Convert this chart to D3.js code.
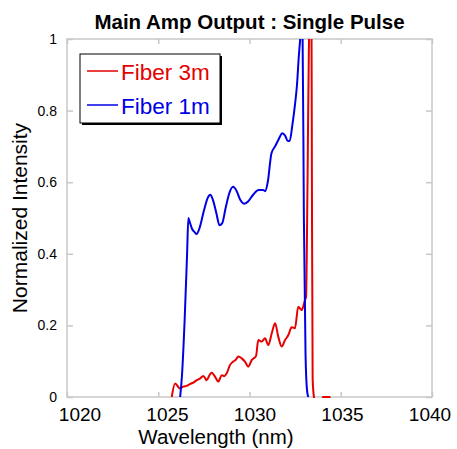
<!DOCTYPE html>
<html>
<head>
<meta charset="utf-8">
<script src="https://cdn.jsdelivr.net/npm/d3@7"></script>
<style>
  body { margin: 0; background: #fff; }
  text { font-family: "Liberation Sans", Arial, sans-serif; }
</style>
</head>
<body>
<script>
const xTicks = [1020, 1025, 1030, 1035, 1040];
const yTicks = [0, 0.2, 0.4, 0.6, 0.8, 1];

const fiber3mWl = [1025.74, 1025.92, 1026.19, 1026.37, 1026.55, 1026.74, 1026.92, 1027.11, 1027.30, 1027.47,
  1027.65, 1027.80, 1027.93, 1028.11, 1028.29, 1028.48, 1028.62, 1028.75, 1028.93, 1029.11, 1029.25, 1029.39,
  1029.57, 1029.75, 1029.93, 1030.12, 1030.36, 1030.48, 1030.67, 1030.85, 1031.03, 1031.22, 1031.40, 1031.58,
  1031.76, 1031.95, 1032.13, 1032.31, 1032.49, 1032.67, 1032.86, 1033.04, 1033.10, 1033.18, 1033.26, 1033.32,
  1033.40, 1033.42, 1033.46, 1033.53, 1033.60, 1033.95, 1034.02, 1034.40, 1034.45];
const fiber3mInt = [0, 0.038, 0.024, 0.029, 0.031, 0.036, 0.040, 0.047, 0.052, 0.059,
  0.047, 0.060, 0.068, 0.057, 0.043, 0.061, 0.058, 0.066, 0.089, 0.099, 0.104, 0.113,
  0.108, 0.099, 0.085, 0.103, 0.115, 0.159, 0.155, 0.164, 0.145, 0.178, 0.206, 0.168,
  0.141, 0.159, 0.173, 0.195, 0.192, 0.252, 0.243, 0.271, 0.28, 0.6, 1.0, 1.04,
  1.0, 0.6, 0.05, 0, -0.02, -0.02, 0, 0, -0.02];

const fiber1mWl = [1026.20, 1026.30, 1026.45, 1026.58, 1026.65, 1026.72, 1026.85, 1027.00, 1027.10, 1027.25,
  1027.50, 1027.70, 1027.85, 1028.00, 1028.20, 1028.35, 1028.50, 1028.70, 1028.90, 1029.10, 1029.30, 1029.50,
  1029.70, 1029.90, 1030.20, 1030.50, 1030.75, 1030.85, 1031.00, 1031.20, 1031.40, 1031.60, 1031.80, 1031.95,
  1032.10, 1032.20, 1032.35, 1032.50, 1032.60, 1032.70, 1032.78, 1032.84, 1032.91, 1032.98, 1033.07, 1033.15,
  1033.22];
const fiber1mInt = [0, 0.06, 0.22, 0.40, 0.50, 0.49, 0.47, 0.46, 0.455, 0.47,
  0.52, 0.555, 0.565, 0.55, 0.51, 0.48, 0.485, 0.53, 0.57, 0.587, 0.575, 0.55,
  0.54, 0.545, 0.565, 0.578, 0.578, 0.575, 0.60, 0.68, 0.70, 0.72, 0.737, 0.73,
  0.715, 0.715, 0.76, 0.82, 0.87, 0.95, 1.0, 1.03, 1.0, 0.5, 0.12, 0.02,
  0];

const seriesNames = ['Fiber 3m', 'Fiber 1m'];

function main() {
  const width = 457;
  const height = 449;
  const left = 67, right = 432, top = 39, bottom = 397;
  const colors = ['#e60000', '#0000e6'];
  const frame = '#c8c8c8';

  const svg = d3.select('body').append('svg')
    .attr('width', width)
    .attr('height', height);

  const x = d3.scaleLinear().domain([1020, 1040]).range([left, right]);
  const y = d3.scaleLinear().domain([0, 1]).range([bottom, top]);
  // tick labels in the original are spaced slightly tighter than the ticks
  const xLabel = d3.scaleLinear().domain([1020, 1040]).range([80, 430]);

  // frame
  svg.append('rect')
    .attr('x', left).attr('y', top)
    .attr('width', right - left).attr('height', bottom - top)
    .attr('fill', 'none').attr('stroke', frame).attr('stroke-width', 1.5);

  const tickStyle = g => {
    g.select('.domain').remove();
    g.selectAll('line').attr('stroke', frame).attr('stroke-width', 1.5);
  };

  svg.append('g').attr('transform', `translate(0,${bottom})`)
    .call(d3.axisTop(x).tickValues(xTicks).tickSize(5).tickFormat(''))
    .call(tickStyle);
  svg.append('g').attr('transform', `translate(0,${top})`)
    .call(d3.axisBottom(x).tickValues(xTicks).tickSize(5).tickFormat(''))
    .call(tickStyle);
  svg.append('g').attr('transform', `translate(${left},0)`)
    .call(d3.axisRight(y).tickValues(yTicks).tickSize(6).tickFormat(''))
    .call(tickStyle);
  svg.append('g').attr('transform', `translate(${right},0)`)
    .call(d3.axisLeft(y).tickValues(yTicks).tickSize(6).tickFormat(''))
    .call(tickStyle);

  svg.append('g').selectAll('text')
    .data(xTicks).enter().append('text')
    .attr('x', d => xLabel(d)).attr('y', 421)
    .attr('text-anchor', 'middle')
    .attr('font-size', 19)
    .text(d => d);

  svg.append('g').selectAll('text')
    .data(yTicks).enter().append('text')
    .attr('x', 57).attr('y', d => y(d) + 5)
    .attr('text-anchor', 'end')
    .attr('font-size', 14)
    .text(d => d3.format('~g')(d));

  // series
  const clipId = 'plot-clip';
  svg.append('clipPath').attr('id', clipId)
    .append('rect')
    .attr('x', left).attr('y', top)
    .attr('width', right - left).attr('height', bottom - top + 1);

  const line = d3.line()
    .x(d => x(d[0]))
    .y(d => y(d[1]))
    .curve(d3.curveMonotoneX);

  const series = [
    d3.zip(fiber3mWl, fiber3mInt),
    d3.zip(fiber1mWl, fiber1mInt),
  ];

  svg.append('g').attr('clip-path', `url(#${clipId})`)
    .selectAll('path')
    .data(series).enter().append('path')
    .attr('d', line)
    .attr('fill', 'none')
    .attr('stroke', (d, i) => colors[i])
    .attr('stroke-width', 2)
    .attr('stroke-linejoin', 'round');

  // title and axis labels
  svg.append('text')
    .attr('x', (left + right) / 2).attr('y', 29)
    .attr('text-anchor', 'middle')
    .attr('font-size', 20.5).attr('font-weight', 'bold')
    .text('Main Amp Output : Single Pulse');

  svg.append('text')
    .attr('x', 216).attr('y', 444)
    .attr('text-anchor', 'middle')
    .attr('font-size', 20.5)
    .text('Wavelength (nm)');

  svg.append('text')
    .attr('transform', `translate(27,${(top + bottom) / 2}) rotate(-90)`)
    .attr('text-anchor', 'middle')
    .attr('font-size', 21)
    .text('Normalized Intensity');

  // legend
  const legend = svg.append('g');
  legend.append('rect')
    .attr('x', 82).attr('y', 56).attr('width', 140).attr('height', 69)
    .attr('fill', '#000');
  legend.append('rect')
    .attr('x', 80).attr('y', 54).attr('width', 140).attr('height', 69)
    .attr('fill', '#fff').attr('stroke', '#000').attr('stroke-width', 1);

  const rows = legend.selectAll('.row')
    .data(seriesNames).enter().append('g')
    .attr('transform', (d, i) => `translate(0,${71 + i * 34})`);
  rows.append('line')
    .attr('x1', 87).attr('x2', 118)
    .attr('stroke', (d, i) => colors[i]).attr('stroke-width', 1.5);
  rows.append('text')
    .attr('x', 121).attr('y', 9)
    .attr('font-size', 22.5)
    .attr('fill', (d, i) => colors[i])
    .text(d => d);
}

main();
</script>
</body>
</html>
